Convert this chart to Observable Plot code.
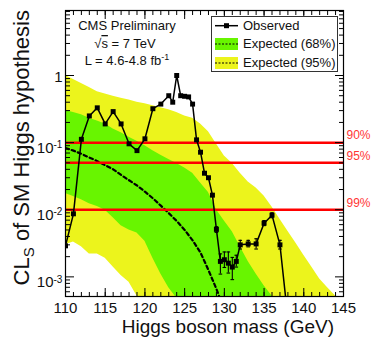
<!DOCTYPE html>
<html><head><meta charset="utf-8">
<script src="https://cdn.jsdelivr.net/npm/d3@7"></script>
<script src="https://cdn.jsdelivr.net/npm/@observablehq/plot@0.6"></script>
<style>html,body{margin:0;padding:0;background:#fff}#chart{width:382px;height:341px}</style>
</head><body><div id="chart"></div>
<script>
// ---- data ----
const bandMass = [110,111,112,113,114,115,116,117,118,119,120,121,122,123,124,125,126,127,128,129,130,131,132,133,134,135,136,137,138,139,140,141,142,143,144,145];
const yellowHi = [1.0,0.87,0.76,0.66,0.575,0.53,0.49,0.46,0.43,0.40,0.38,0.355,0.33,0.31,0.28,0.25,0.23,0.19,0.145,0.095,0.063,0.049,0.035,0.026,0.021,0.016,0.011,0.0072,0.0048,0.0032,0.0021,0.0014,0.00093,0.00069,0.00052,0.00035];
const greenHi = [0.30,0.28,0.26,0.23,0.21,0.19,0.16,0.14,0.12,0.105,0.090,0.076,0.065,0.056,0.049,0.042,0.035,0.025,0.018,0.010,0.0068,0.0047,0.0028,0.0017,0.0011,0.00074,0.00052,0.00035,0.00025,0.00018,0.00013,0.000089,0.000063,0.000045,0.000032,0.000022];
const greenLo = [0.0174,0.0158,0.0141,0.0123,0.0112,0.0098,0.0076,0.0058,0.0050,0.0045,0.0034,0.0019,0.0011,0.00069,0.00048,0.00032,0.0002,0.000126,0.00008,0.00005,0.00003,0.00002,0.000013,0.000008,0.000005,0.000003,0.000002,0.0000013,0.0000008,0.0000005,0.0000003,0.0000002,0.00000013,0.00000008,0.00000005,0.00000003];
const yellowLo = [0.0030,0.0033,0.0028,0.0022,0.0022,0.0019,0.0014,0.00105,0.00083,0.00052,0.00035,0.00022,0.00014,0.00009,0.00006,0.00004,0.000025,0.000016,0.00001,0.000006,0.000004,0.0000025,0.0000016,0.000001,0.0000006,0.0000004,0.00000025,0.00000016,0.0000001,0.00000006,0.00000004,0.000000025,0.000000016,0.00000001,0.000000006,0.000000004];

const medianMass = [110,111,112,113,114,115,116,117,118,119,120,121,122,123,124,125,126,127,128,129,130];
const medianVal = [0.083,0.076,0.068,0.060,0.053,0.046,0.040,0.033,0.0275,0.023,0.0186,0.0148,0.0115,0.0089,0.0068,0.0050,0.0035,0.0023,0.00126,0.00066,0.00032];

const obsMass = [110,111,112,113,114,115,116,117,118,119,120,121,122,123,123.5,124,124.5,125,125.5,126,126.5,127,127.5,128,128.5,129,129.5,130,130.5,131,131.5,132,133,134,135,136,137,138];
const obsVal = [0.0029,0.0087,0.112,0.25,0.33,0.19,0.29,0.19,0.096,0.076,0.114,0.32,0.375,0.50,0.40,1.0,0.50,0.49,0.48,0.375,0.11,0.072,0.035,0.030,0.0165,0.0051,0.0017,0.0018,0.0016,0.0014,0.0017,0.0030,0.0031,0.0031,0.0063,0.0083,0.0030,0.00024];

const errMass = [129,129.5,130,130.5,131,131.5,132,133,134,135,136,137];
const errHi = [0.0056,0.0022,0.00235,0.00235,0.00195,0.0021,0.0035,0.0035,0.0037,0.0069,0.0090,0.0035];
const errLo = [0.0046,0.0011,0.00138,0.00114,0.00091,0.0014,0.0026,0.0028,0.0026,0.0058,0.0076,0.0026];

const clLevels = [0.1, 0.05, 0.01];
const clLabels = ["90%", "95%", "99%"];

const xMajor = [110,115,120,125,130,135,140,145];
const xMinor = [110,111,112,113,114,115,116,117,118,119,120,121,122,123,124,125,126,127,128,129,130,131,132,133,134,135,136,137,138,139,140,141,142,143,144,145];
const yPow = [0.001, 0.01, 0.1];
const yPowExp = ["-3", "-2", "-1"];
const yOne = [1];
const yMajor = [0.001, 0.01, 0.1, 1];
const yMinor = [0.0006,0.0007,0.0008,0.0009,0.002,0.003,0.004,0.005,0.006,0.007,0.008,0.009,0.02,0.03,0.04,0.05,0.06,0.07,0.08,0.09,0.2,0.3,0.4,0.5,0.6,0.7,0.8,0.9,2,3,4,5,6,7,8,9];

// ---- tables ----
const bands = bandMass.map((m, i) => ({mass: m, y95hi: yellowHi[i], y95lo: yellowLo[i], g68hi: greenHi[i], g68lo: greenLo[i]}));
const median = medianMass.map((m, i) => ({mass: m, cls: medianVal[i]}));
const obs = obsMass.map((m, i) => ({mass: m, cls: obsVal[i]}));
const errs = errMass.map((m, i) => ({mass: m, hi: errHi[i], lo: errLo[i]}));

const GREEN = "#68f500";
const YELLOW = "#ecf41c";
const FONT = "'Liberation Sans', Arial, Helvetica, sans-serif";
const cap = {draw(ctx, size) { const r = Math.sqrt(size / Math.PI); ctx.moveTo(-r, 0); ctx.lineTo(r, 0); }};
const blank = () => "";

const chart = Plot.plot({
  width: 382, height: 341,
  marginLeft: 65, marginRight: 39, marginTop: 10, marginBottom: 45,
  style: {fontFamily: FONT, background: "#fff", overflow: "visible", color: "#000"},
  x: {domain: [110, 145], label: null},
  y: {type: "log", domain: [5.1e-4, 9.3], label: null},
  marks: [
    Plot.areaY(bands, {x: "mass", y1: "y95lo", y2: "y95hi", fill: YELLOW, clip: true}),
    Plot.areaY(bands, {x: "mass", y1: "g68lo", y2: "g68hi", fill: GREEN, clip: true}),
    Plot.line(median, {x: "mass", y: "cls", stroke: "#000", strokeWidth: 2.2, strokeDasharray: "3.5,3", clip: true}),
    Plot.ruleY(clLevels, {stroke: "#ff0000", strokeWidth: 2.5}),
    Plot.text(clLevels, {y: d => d, text: (d, i) => clLabels[i], frameAnchor: "right", textAnchor: "start", dx: 3, dy: -7, fill: "#ff3535", fontSize: 12}),
    Plot.ruleX(errs, {x: "mass", y1: "lo", y2: "hi", stroke: "#000", strokeWidth: 1.1, clip: true}),
    Plot.dot(errs, {x: "mass", y: "lo", symbol: cap, r: 1.8, stroke: "#000", strokeWidth: 1.1, clip: true}),
    Plot.dot(errs, {x: "mass", y: "hi", symbol: cap, r: 1.8, stroke: "#000", strokeWidth: 1.1, clip: true}),
    Plot.line(obs, {x: "mass", y: "cls", stroke: "#000", strokeWidth: 1.5, clip: true}),
    Plot.dot(obs, {x: "mass", y: "cls", symbol: "square", r: 2.8, fill: "#000", stroke: "none", clip: true}),
    // axes ticks (inward, mirrored)
    Plot.axisX({anchor: "bottom", ticks: xMajor, tickSize: -8, tickFormat: blank, label: null}),
    Plot.axisX({anchor: "bottom", ticks: xMinor, tickSize: -4, tickFormat: blank, label: null}),
    Plot.axisX({anchor: "top", ticks: xMajor, tickSize: -8, tickFormat: blank, label: null}),
    Plot.axisX({anchor: "top", ticks: xMinor, tickSize: -4, tickFormat: blank, label: null}),
    Plot.axisY({anchor: "left", ticks: yMajor, tickSize: -9, tickFormat: blank, label: null}),
    Plot.axisY({anchor: "left", ticks: yMinor, tickSize: -5, tickFormat: blank, label: null}),
    Plot.axisY({anchor: "right", ticks: yMajor, tickSize: -9, tickFormat: blank, label: null}),
    Plot.axisY({anchor: "right", ticks: yMinor, tickSize: -5, tickFormat: blank, label: null}),
    // tick labels
    Plot.text(xMajor, {x: d => d, text: d => `${d}`, frameAnchor: "bottom", lineAnchor: "top", dy: 6, fontSize: 15, fill: "#111"}),
    Plot.text(yPow, {y: d => d, text: () => "10", frameAnchor: "left", textAnchor: "end", dx: -12, dy: 5.5, fontSize: 15, fill: "#111"}),
    Plot.text(yPow, {y: d => d, text: (d, i) => yPowExp[i], frameAnchor: "left", textAnchor: "start", dx: -12, dy: 2.5, fontSize: 10, fill: "#111"}),
    Plot.text(yOne, {y: d => d, text: () => "1", frameAnchor: "left", textAnchor: "end", dx: -3, dy: 1.8, fontSize: 15, fill: "#111"}),
    Plot.frame({stroke: "#000", strokeWidth: 1.2})
  ]
});

document.getElementById("chart").appendChild(chart);

// ---- titles, annotations, legend ----
const svg = d3.select(chart);
// y title
const yt = svg.append("text").attr("transform", "translate(29,10) rotate(-90)")
  .attr("text-anchor", "end").attr("font-size", 22).attr("fill", "#111");
yt.append("tspan").text("CL");
yt.append("tspan").attr("font-size", 15).attr("dy", 5).text("S");
yt.append("tspan").attr("dy", -5).text(" of SM Higgs hypothesis");
// x title
svg.append("text").attr("x", 334).attr("y", 333).attr("text-anchor", "end")
  .attr("font-size", 19).attr("fill", "#111").text("Higgs boson mass (GeV)");
// CMS labels
svg.append("text").attr("x", 127).attr("y", 29.5).attr("text-anchor", "middle")
  .attr("font-size", 13).attr("fill", "#111").text("CMS Preliminary");
const rs = svg.append("text").attr("x", 125).attr("y", 48).attr("text-anchor", "middle")
  .attr("font-size", 13).attr("fill", "#111");
rs.append("tspan").text("\u221A");
rs.append("tspan").attr("text-decoration", "overline").text("s");
rs.append("tspan").text(" = 7 TeV");
const lt = svg.append("text").attr("x", 127).attr("y", 65).attr("text-anchor", "middle")
  .attr("font-size", 13).attr("fill", "#111");
lt.append("tspan").text("L = 4.6-4.8 fb");
lt.append("tspan").attr("font-size", 9).attr("dy", -5).text("-1");
// legend
const lg = svg.append("g");
lg.append("rect").attr("x", 211.5).attr("y", 16.5).attr("width", 126).attr("height", 55)
  .attr("fill", "#fff").attr("stroke", "#333").attr("stroke-width", 1);
lg.append("line").attr("x1", 215).attr("x2", 238).attr("y1", 25.7).attr("y2", 25.7).attr("stroke", "#000").attr("stroke-width", 1.5);
lg.append("rect").attr("x", 224).attr("y", 23.2).attr("width", 5).attr("height", 5).attr("fill", "#000");
lg.append("rect").attr("x", 215).attr("y", 38).attr("width", 23).attr("height", 12).attr("fill", GREEN);
lg.append("line").attr("x1", 215).attr("x2", 238).attr("y1", 44).attr("y2", 44).attr("stroke", "#000").attr("stroke-width", 1).attr("stroke-dasharray", "2,1.5");
lg.append("rect").attr("x", 215).attr("y", 57).attr("width", 23).attr("height", 12).attr("fill", YELLOW);
lg.append("line").attr("x1", 215).attr("x2", 238).attr("y1", 63).attr("y2", 63).attr("stroke", "#000").attr("stroke-width", 1).attr("stroke-dasharray", "2,1.5");
const legendLabels = ["Observed", "Expected (68%)", "Expected (95%)"];
const legendY = [30.3, 48.3, 67.3];
legendLabels.forEach((t, i) => {
  lg.append("text").attr("x", 243).attr("y", legendY[i]).attr("text-anchor", "start")
    .attr("font-size", 13).attr("fill", "#111").text(t);
});
</script>
</body></html>
